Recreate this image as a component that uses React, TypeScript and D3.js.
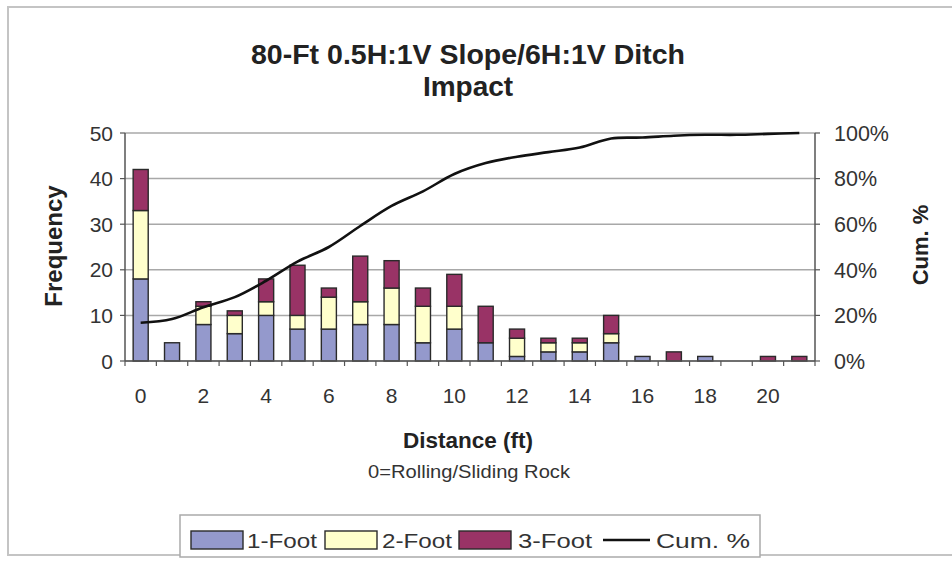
import React from "react";
import * as d3 from "d3";

const categories = ["0","1","2","3","4","5","6","7","8","9","10","11","12","13","14","15","16","17","18","19","20","21"];
const oneFoot =   [18, 4, 8, 6, 10, 7, 7, 8, 8, 4, 7, 4, 1, 2, 2, 4, 1, 0, 1, 0, 0, 0];
const twoFoot =   [15, 0, 4, 4, 3, 3, 7, 5, 8, 8, 5, 0, 4, 2, 2, 2, 0, 0, 0, 0, 0, 0];
const threeFoot = [9, 0, 1, 1, 5, 11, 2, 10, 6, 4, 7, 8, 2, 1, 1, 4, 0, 2, 0, 0, 1, 1];
const cumPct = [16.8, 18.4, 23.6, 28, 35.2, 43.6, 50, 59.2, 68, 74.4, 82, 86.8, 89.6, 91.6, 93.6, 97.6, 98, 98.8, 99.2, 99.2, 99.6, 100];
const leftTicks = [0, 10, 20, 30, 40, 50];
const rightTicks = [0, 20, 40, 60, 80, 100];
const xLabels = ["0","2","4","6","8","10","12","14","16","18","20"];
const seriesNames = ["1-Foot", "2-Foot", "3-Foot", "Cum. %"];

const COLORS = ["#9499cc", "#ffffcc", "#993366"];
const FONT = "'Liberation Sans', Arial, Helvetica, sans-serif";

export default function App() {
  const L = 125, R = 815, T = 133, B = 361;
  const x = d3.scaleBand<string>().domain(categories).range([L, R]).paddingInner(0.52).paddingOuter(0.26);
  const y = d3.scaleLinear().domain([0, 50]).range([B, T]);
  const y2 = d3.scaleLinear().domain([0, 100]).range([B, T]);

  const rows = categories.map((c, i) => ({ c, a: oneFoot[i], b: twoFoot[i], d: threeFoot[i] }));
  const stack = d3.stack<any>().keys(["a", "b", "d"])(rows);

  const line = d3.line<number>()
    .x((_, i) => (x(categories[i]) as number) + x.bandwidth() / 2)
    .y((v) => y2(v))
    .curve(d3.curveCatmullRom.alpha(0.5));

  const step = x.step();
  const boundaries = d3.range(categories.length + 1).map((i) => L + i * step);

  const legendText = [
    { x: 247, w: 70 },
    { x: 382, w: 70 },
    { x: 518, w: 74 },
  ];

  return (
    <svg width={952} height={566} style={{ position: "absolute", left: 0, top: 0, display: "block", background: "#fff" }} fontFamily={FONT}>
      <rect x={0} y={0} width={952} height={566} fill="#fff" />
      <rect x={8} y={7} width={960} height={548} fill="none" stroke="#c4c4c4" strokeWidth={2} />

      <text x={468} y={64} textAnchor="middle" fontSize={28.5} fontWeight="bold" fill="#222">80-Ft 0.5H:1V Slope/6H:1V Ditch</text>
      <text x={468} y={96} textAnchor="middle" fontSize={28} fontWeight="bold" fill="#222">Impact</text>

      {/* gridlines */}
      {leftTicks.map((t) => (
        <line key={"g" + t} x1={L} x2={R} y1={y(t)} y2={y(t)} stroke="#a8a8a8" strokeWidth={1.5} />
      ))}

      {/* bars */}
      {stack.map((s, si) => (
        <g key={"s" + si}>
          {s.map((d, i) => (d[1] - d[0] > 0 ? (
            <rect key={i} x={x(categories[i])} y={y(d[1])} width={x.bandwidth()} height={y(d[0]) - y(d[1])}
              fill={COLORS[si]} stroke="#2a2a2a" strokeWidth={1.4} />
          ) : null))}
        </g>
      ))}

      {/* cum line */}
      <path d={line(cumPct) || ""} fill="none" stroke="#111" strokeWidth={2.6} />

      {/* axes */}
      <line x1={L} x2={L} y1={T} y2={B} stroke="#555" strokeWidth={1.5} />
      <line x1={R} x2={R} y1={T} y2={B} stroke="#555" strokeWidth={1.5} />
      <line x1={L} x2={R} y1={B} y2={B} stroke="#555" strokeWidth={1.5} />
      {leftTicks.map((t) => (
        <g key={"lt" + t}>
          <line x1={L - 5} x2={L} y1={y(t)} y2={y(t)} stroke="#555" strokeWidth={1.2} />
          <text x={113} y={y(t)} dy="0.36em" textAnchor="end" fontSize={21} fill="#333">{t}</text>
        </g>
      ))}
      {rightTicks.map((t) => (
        <g key={"rt" + t}>
          <line x1={R} x2={R + 5} y1={y2(t)} y2={y2(t)} stroke="#555" strokeWidth={1.2} />
          <text x={834} y={y2(t)} dy="0.36em" textAnchor="start" fontSize={21.5} fill="#333">{t + "%"}</text>
        </g>
      ))}
      {boundaries.map((bx, i) => (
        <line key={"xb" + i} x1={bx} x2={bx} y1={B} y2={B + 5} stroke="#555" strokeWidth={1.2} />
      ))}
      {xLabels.map((l) => (
        <text key={"xl" + l} x={(x(l) as number) + x.bandwidth() / 2} y={403} textAnchor="middle" fontSize={21} fill="#333">{l}</text>
      ))}

      <text transform="translate(62,246) rotate(-90)" textAnchor="middle" fontSize={24} fontWeight="bold" fill="#222">Frequency</text>
      <text transform="translate(928,245) rotate(-90)" textAnchor="middle" fontSize={22} fontWeight="bold" fill="#222">Cum. %</text>
      <text x={468} y={448} textAnchor="middle" fontSize={22.5} fontWeight="bold" fill="#222">Distance (ft)</text>
      <text x={469} y={478} textAnchor="middle" fontSize={18} fill="#333" textLength={202} lengthAdjust="spacingAndGlyphs">0=Rolling/Sliding Rock</text>

      {/* legend */}
      <rect x={180} y={515} width={580} height={42} fill="#fff" stroke="#aaa" strokeWidth={1.5} />
      {[0, 1, 2].map((i) => (
        <g key={"lg" + i}>
          <rect x={191 + i * 134} y={531} width={52} height={18} fill={COLORS[i]} stroke="#2a2a2a" strokeWidth={1.4} />
          <text x={legendText[i].x} y={540} dy="0.36em" fontSize={21} fill="#333" textLength={legendText[i].w} lengthAdjust="spacingAndGlyphs">{seriesNames[i]}</text>
        </g>
      ))}
      <line x1={603} x2={650} y1={540} y2={540} stroke="#111" strokeWidth={2.6} />
      <text x={656} y={540} dy="0.36em" fontSize={21} fill="#333" textLength={94} lengthAdjust="spacingAndGlyphs">{seriesNames[3]}</text>
    </svg>
  );
}
